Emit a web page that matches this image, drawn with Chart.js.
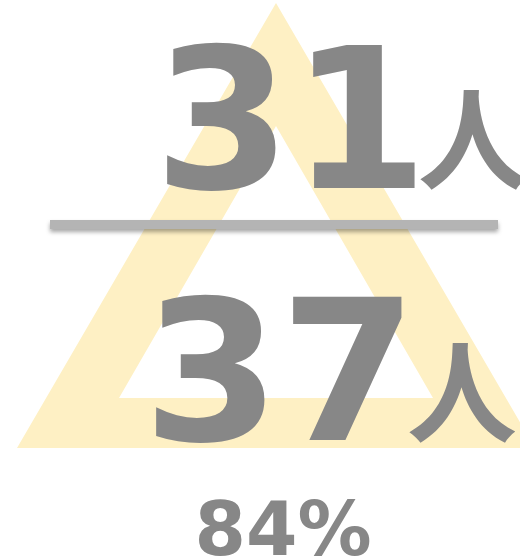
<!DOCTYPE html>
<html lang="ja">
<head>
<meta charset="utf-8">
<title>内定者数</title>
<script src="https://cdn.jsdelivr.net/npm/chart.js@4/dist/chart.umd.min.js"></script>
<style>
    html, body { margin: 0; padding: 0; background: #ffffff; }
    #wrap { width: 520px; height: 558px; }
</style>
</head>
<body>
<div id="wrap"><canvas id="rate-chart" width="520" height="558"></canvas></div>
<script>
'use strict';

// values
const labels = ['内定者', '応募者'];
const counts = [31, 37];
const unit = '人';

const textColor = '#878787';
const triColor = '#fef0c4';
const barColor = '#b4b4b4';

function rateText() {
    return Math.round(counts[0] / counts[1] * 100) + '%';
}

// draws the triangle, the divider and the numbers
const infoPlugin = {
    id: 'info',
    beforeDraw(chart) {
	const ctx = chart.ctx;

	ctx.save();
	// outline triangle
	ctx.fillStyle = triColor;
	ctx.beginPath();
	ctx.moveTo(276, 3);
	ctx.lineTo(535, 448);
	ctx.lineTo(17, 448);
	ctx.closePath();
	ctx.moveTo(276, 126);
	ctx.lineTo(119, 398);
	ctx.lineTo(433, 398);
	ctx.closePath();
	ctx.fill('evenodd');

	// divider with shadow
	ctx.shadowColor = 'rgba(0,0,0,0.35)';
	ctx.shadowOffsetY = 3;
	ctx.shadowBlur = 4;
	ctx.fillStyle = barColor;
	ctx.fillRect(50, 220, 448, 9);
	ctx.restore();
    },
    afterDraw(chart) {
	const ctx = chart.ctx;
	ctx.save();
	ctx.fillStyle = textColor;
	ctx.textBaseline = 'alphabetic';

	// numerator
	ctx.textAlign = 'left';
	ctx.font = 'bold 197px "DejaVu Sans"';
	ctx.fillText(String(counts[0]), 154, 188);
	ctx.font = 'bold 110px "Noto Sans CJK JP"';
	ctx.fillText(unit, 418, 181);

	// denominator
	ctx.font = 'bold 197px "DejaVu Sans"';
	ctx.fillText(String(counts[1]), 143, 440);
	ctx.font = 'bold 110px "Noto Sans CJK JP"';
	ctx.fillText(unit, 407, 434);

	// rate
	ctx.textAlign = 'center';
	ctx.font = 'bold 74px "DejaVu Sans"';
	ctx.fillText(rateText(), 283, 555);
	ctx.restore();
    },
};

const rateChartConfig = {
    type: 'bar',
    data: {
	labels: labels,
	datasets: [{
	    label: '人数',
	    data: counts,
	    backgroundColor: 'rgba(0,0,0,0)',
	}],
    },
    options: {
	responsive: false,
	animation: false,
	layout: { padding: 0 },
	plugins: {
	    legend: { display: false },
	    tooltip: { enabled: false },
	},
	scales: {
	    x: { display: false },
	    y: { display: false, beginAtZero: true },
	},
    },
    plugins: [infoPlugin],
};

const rateChart = new Chart(document.querySelector('#rate-chart'), rateChartConfig);
</script>
</body>
</html>
